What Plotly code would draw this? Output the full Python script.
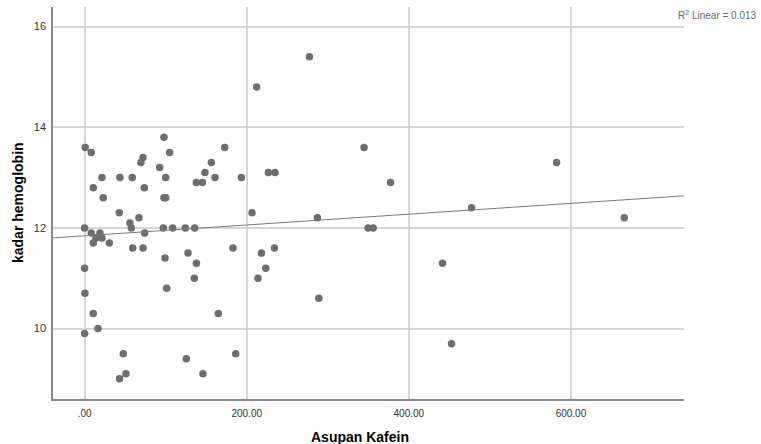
import numpy as np
import plotly.graph_objects as go

# Asupan Kafein (x) and kadar hemoglobin (y)
kafein = [0.8, 8.2, 97.9, 104.9, 172.8, 72.0, 69.5, 92.6, 156.4, 148.5, 160.9, 193.4,
          21.4, 43.6, 58.8, 100.0, 137.9, 145.3, 10.7, 73.7, 23.0, 97.9, 100.0,
          42.8, 67.0, 55.9, 57.6, 0.0, 97.1, 108.6, 124.3, 135.8, 8.2, 18.9, 74.1,
          14.0, 21.4, 10.7, 30.5, 59.3, 72.0, 183.1, 127.6, 99.2, 137.9, 0.0, 135.4,
          101.2, 0.4, 10.7, 165.0, 16.5, 0.0, 47.7, 186.4, 125.5, 51.0, 146.0, 43.2,
          277.4, 212.3, 344.8, 226.8, 234.9, 377.4, 206.6, 287.2, 349.8, 356.0,
          218.1, 234.2, 223.5, 213.9, 289.0,
          582.3, 477.4, 665.8, 441.6, 452.7]
hemoglobin = [13.6, 13.5, 13.8, 13.5, 13.6, 13.4, 13.3, 13.2, 13.3, 13.1, 13.0, 13.0,
              13.0, 13.0, 13.0, 13.0, 12.9, 12.9, 12.8, 12.8, 12.6, 12.6, 12.6,
              12.3, 12.2, 12.1, 12.0, 12.0, 12.0, 12.0, 12.0, 12.0, 11.9, 11.9, 11.9,
              11.8, 11.8, 11.7, 11.7, 11.6, 11.6, 11.6, 11.5, 11.4, 11.3, 11.2, 11.0,
              10.8, 10.7, 10.3, 10.3, 10.0, 9.9, 9.5, 9.5, 9.4, 9.1, 9.1, 9.0,
              15.4, 14.8, 13.6, 13.1, 13.1, 12.9, 12.3, 12.2, 12.0, 12.0,
              11.5, 11.6, 11.2, 11.0, 10.6,
              13.3, 12.4, 12.2, 11.3, 9.7]

x_ticks = [0, 200, 400, 600]
x_tick_labels = [".00", "200.00", "400.00", "600.00"]
y_ticks = [10, 12, 14, 16]
y_tick_labels = ["10", "12", "14", "16"]
x_range = [-39, 739.5]
y_range = [8.6, 16.39]

# Linear fit line from the data
slope, intercept = np.polyfit(kafein, hemoglobin, 1)
fit_x = np.array(x_range)
fit_y = intercept + slope * fit_x

FONT = "Liberation Sans, Arial, sans-serif"
L, R, T, B = 53, 684, 7, 399  # plot area in pixels

fig = go.Figure()
fig.add_trace(go.Scatter(
    x=kafein, y=hemoglobin, mode="markers",
    marker=dict(color="#6e6e6e", size=7.5, line=dict(width=0)),
    showlegend=False, hoverinfo="x+y"))
fig.add_trace(go.Scatter(
    x=fit_x, y=fit_y, mode="lines",
    line=dict(color="#7a7a7a", width=1),
    showlegend=False, hoverinfo="skip"))

fig.add_annotation(
    x=(759 - L) / (R - L), y=(B - 15) / (B - T), xref="paper", yref="paper",
    xanchor="right", yanchor="middle",
    text="R<sup>2</sup> Linear = 0.013", showarrow=False,
    font=dict(family=FONT, size=10, color="#666666"))
fig.add_annotation(
    x=(360 - L) / (R - L), y=0, xref="paper", yref="paper",
    xanchor="center", yanchor="middle", yshift=-38,
    text="<b>Asupan Kafein</b>", showarrow=False,
    font=dict(family=FONT, size=14, color="#000000"))
fig.add_annotation(
    x=0, y=0.5, xref="paper", yref="paper",
    xanchor="center", yanchor="middle", xshift=-35, textangle=-90,
    text="<b>kadar hemoglobin</b>", showarrow=False,
    font=dict(family=FONT, size=14, color="#000000"))

fig.update_layout(
    width=761, height=444,
    margin=dict(l=L, r=761 - R, t=T, b=444 - B),
    paper_bgcolor="white", plot_bgcolor="white",
    font=dict(family=FONT, color="#000000"),
    xaxis=dict(
        range=x_range, tickvals=x_ticks, ticktext=x_tick_labels,
        showgrid=True, gridcolor="#d6d6d6", gridwidth=1.5,
        zeroline=False, showline=True, linecolor="#8a8a8a", linewidth=1.5,
        ticks="", tickfont=dict(family=FONT, size=10, color="#333333"),
        ticklabelstandoff=4,
    ),
    yaxis=dict(
        range=y_range, tickvals=y_ticks, ticktext=y_tick_labels,
        showgrid=True, gridcolor="#d6d6d6", gridwidth=1.5,
        zeroline=False, showline=True, linecolor="#8a8a8a", linewidth=1.5,
        ticks="", tickfont=dict(family=FONT, size=11, color="#333333"),
        ticklabelstandoff=3,
    ),
)

fig.write_html("out.html", config={"displayModeBar": False},
               post_script="document.body.style.margin='0';document.body.style.padding='0';")
